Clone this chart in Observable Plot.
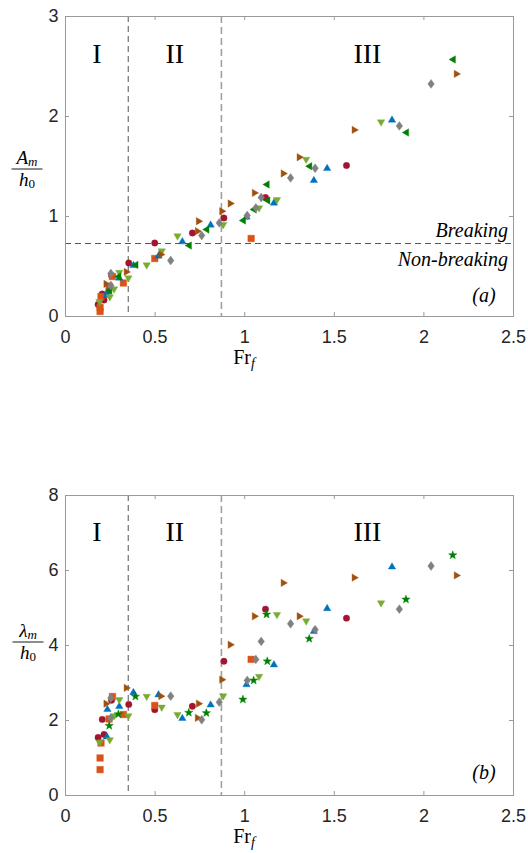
<!DOCTYPE html>
<html><head><meta charset="utf-8">
<script src="https://cdn.jsdelivr.net/npm/d3@7"></script>
<script src="https://cdn.jsdelivr.net/npm/@observablehq/plot@0.6"></script>
<style>
body{margin:0;background:#fff;}
#wrap{position:relative;width:528px;height:853px;overflow:hidden;}
.panel{position:absolute;left:0;}
svg{overflow:visible;}
</style></head><body>
<div id="wrap"><div id="p1" class="panel" style="top:0"></div><div id="p2" class="panel" style="top:480px"></div></div>
<script>
// ---- axis ticks ----
const xTicks = [0, 0.5, 1, 1.5, 2, 2.5];
const aTicks = [0, 1, 2, 3];
const lTicks = [0, 2, 4, 6, 8];

// ---- reference lines ----
const breakA = 0.73;
const regionB1 = 0.35;
const regionB2 = 0.87;
const regionNames = ["I", "II", "III"];
const regionX = [0.175, 0.61, 1.685];

// ---- series: dark red circles ----
const circX = [0.182, 0.205, 0.215, 0.257, 0.353, 0.498, 0.708, 0.884, 1.116, 1.568];
const circA = [0.12, 0.225, 0.165, 0.41, 0.535, 0.735, 0.835, 0.985, 1.19, 1.51];
const circL = [1.55, 2.03, 1.63, 2.54, 2.43, 2.29, 2.38, 3.58, 4.97, 4.73];

// ---- orange squares ----
const sqX = [0.193, 0.193, 0.198, 0.243, 0.262, 0.323, 0.498, 1.036];
const sqA = [0.05, 0.09, 0.20, 0.30, 0.40, 0.335, 0.58, 0.78];
const sqL = [0.69, 1.00, 1.40, 2.04, 2.64, 2.16, 2.40, 3.63];

// ---- blue up-triangles ----
const upX = [0.231, 0.234, 0.300, 0.379, 0.519, 0.652, 0.810, 1.010, 1.163, 1.386, 1.460, 1.822];
const upA = [0.22, 0.25, 0.39, 0.516, 0.61, 0.753, 0.92, 1.00, 1.14, 1.366, 1.486, 1.97];
const upL = [1.58, 2.31, 2.39, 2.76, 2.70, 2.07, 2.43, 2.97, 3.50, 4.39, 5.00, 6.11];

// ---- light green down-triangles ----
const dnX = [0.190, 0.247, 0.271, 0.300, 0.351, 0.453, 0.537, 0.625, 0.880, 1.080, 1.180, 1.343, 1.761];
const dnA = [0.143, 0.19, 0.27, 0.436, 0.38, 0.51, 0.65, 0.80, 0.913, 1.08, 1.163, 1.566, 1.94];
const dnL = [1.40, 1.47, 2.11, 2.54, 2.11, 2.63, 2.34, 2.14, 2.64, 3.16, 4.81, 4.64, 5.12];

// ---- brown right-triangles ----
const rtX = [0.229, 0.342, 0.535, 0.739, 0.745, 0.875, 0.922, 1.057, 1.218, 1.307, 1.614, 2.184];
const rtA = [0.326, 0.446, 0.62, 0.853, 0.953, 1.053, 1.13, 1.236, 1.43, 1.593, 1.866, 2.426];
const rtL = [2.45, 2.87, 2.65, 2.07, 2.45, 3.09, 4.02, 4.78, 5.67, 4.78, 5.81, 5.87];

// ---- green left-triangles (a) / stars (b) ----
const gX = [0.244, 0.295, 0.390, 0.688, 0.786, 0.990, 1.050, 1.122, 1.126, 1.360, 1.900, 2.161];
const gA = [0.26, 0.40, 0.516, 0.71, 0.87, 0.96, 1.07, 1.32, 1.16, 1.503, 1.84, 2.57];
const gL = [1.86, 2.17, 2.64, 2.21, 2.20, 2.56, 3.07, 4.83, 3.58, 4.18, 5.23, 6.41];

// ---- gray diamonds ----
const dmX = [0.253, 0.253, 0.587, 0.760, 0.858, 1.014, 1.062, 1.092, 1.256, 1.393, 1.863, 2.040];
const dmA = [0.43, 0.31, 0.56, 0.81, 0.936, 1.01, 1.086, 1.19, 1.386, 1.483, 1.906, 2.326];
const dmL = [2.60, 2.07, 2.65, 2.02, 2.49, 3.07, 3.63, 4.11, 4.58, 4.42, 4.97, 6.12];

// ---- custom marker shapes ----
function sym(fn) { return {draw(c, size) { fn(c, Math.sqrt(size / Math.PI)); }}; }
const symCircle = sym((c, r) => { c.moveTo(r, 0); c.arc(0, 0, r, 0, 2 * Math.PI); });
const symSquare = sym((c, r) => { c.rect(-r, -r, 2 * r, 2 * r); });
const symDiamond = sym((c, r) => { c.moveTo(0, -1.35 * r); c.lineTo(r, 0); c.lineTo(0, 1.35 * r); c.lineTo(-r, 0); c.closePath(); });
const symUp = sym((c, r) => { c.moveTo(0, -r); c.lineTo(r, 0.72 * r); c.lineTo(-r, 0.72 * r); c.closePath(); });
const symDown = sym((c, r) => { c.moveTo(0, r); c.lineTo(r, -0.72 * r); c.lineTo(-r, -0.72 * r); c.closePath(); });
const symRight = sym((c, r) => { c.moveTo(r, 0); c.lineTo(-0.72 * r, -r); c.lineTo(-0.72 * r, r); c.closePath(); });
const symLeft = sym((c, r) => { c.moveTo(-r, 0); c.lineTo(0.72 * r, -r); c.lineTo(0.72 * r, r); c.closePath(); });
const symStar = sym((c, r) => {
  for (let i = 0; i < 10; i++) {
    const rr = i % 2 ? r * 0.42 : r;
    const a = -Math.PI / 2 + i * Math.PI / 5;
    const px = rr * Math.cos(a), py = rr * Math.sin(a);
    i ? c.lineTo(px, py) : c.moveTo(px, py);
  }
  c.closePath();
});

const C = {red: "#A2142F", orange: "#D95319", blue: "#0072BD", lgreen: "#77AC30", brown: "#A0500E", green: "#008000", gray: "#808080"};
const frameGray = "#9a9a9a";
const serif = "'Liberation Serif', 'Times New Roman', serif";

function series(X, Y, symbol, color, r) {
  return Plot.dot(Y, {x: X, y: Y, symbol: symbol, r: r, fill: color, stroke: color, strokeWidth: 0.4});
}

function makePanel(yDomain, yTicks, mt, h, mb, dots, regionY, texts) {
  const innerH = h - mt - mb;
  return Plot.plot({
    width: 528, height: h,
    marginTop: mt, marginBottom: mb, marginLeft: 65, marginRight: 15,
    x: {domain: [0, 2.5]},
    y: {domain: yDomain},
    style: {fontFamily: "'Liberation Sans', Arial, sans-serif", fontSize: "18px", color: "#262626", background: "white", overflow: "visible"},
    marks: [
      Plot.ruleX([regionB1], {stroke: "#555", strokeWidth: 1, strokeDasharray: "6,4"}),
      Plot.ruleX([regionB2], {stroke: "#a0a0a0", strokeWidth: 1.6, strokeDasharray: "7,4"}),
      ...(texts.extra || []),
      Plot.frame({stroke: frameGray}),
      Plot.ruleX(xTicks, {x: d => d, stroke: frameGray, insetTop: innerH - 4}),
      Plot.ruleX(xTicks, {x: d => d, stroke: frameGray, insetBottom: innerH - 4}),
      Plot.ruleY(yTicks, {y: d => d, stroke: frameGray, insetRight: 448 - 4}),
      Plot.ruleY(yTicks, {y: d => d, stroke: frameGray, insetLeft: 448 - 4}),
      Plot.axisX({ticks: xTicks, tickSize: 0, tickPadding: 14, tickFormat: d => String(d), label: null, fill: "#262626"}),
      Plot.axisY({ticks: yTicks, tickSize: 0, tickPadding: 7, tickFormat: d => String(d), label: null, fill: "#262626"}),
      ...dots,
      Plot.text(regionNames, {x: regionX, y: regionNames.map(() => regionY), text: d => d, fontFamily: serif, fontSize: 28, fill: "#000"}),
      ...(texts.labels || [])
    ]
  });
}

function addFrac(svg, cx, ly, num, numSub) {
  const g = d3.select(svg).append("g").attr("font-family", serif).attr("fill", "#000");
  const t1 = g.append("text").attr("x", cx).attr("y", ly - 5).attr("text-anchor", "middle").attr("font-size", 19);
  t1.append("tspan").attr("font-style", "italic").text(num);
  t1.append("tspan").attr("font-style", "italic").attr("font-size", 13).attr("dy", 2).text(numSub);
  g.append("line").attr("x1", cx - 15.5).attr("x2", cx + 15.5).attr("y1", ly).attr("y2", ly).attr("stroke", "#000").attr("stroke-width", 0.9);
  const t2 = g.append("text").attr("x", cx).attr("y", ly + 17).attr("text-anchor", "middle").attr("font-size", 19);
  t2.append("tspan").attr("font-style", "italic").text("h");
  t2.append("tspan").attr("font-size", 13).attr("dy", 2).text("0");
}
function addXLabel(svg, cx, by) {
  const t = d3.select(svg).append("text").attr("x", cx).attr("y", by).attr("text-anchor", "middle")
    .attr("font-family", serif).attr("font-size", 20).attr("fill", "#000");
  t.append("tspan").text("Fr");
  t.append("tspan").attr("font-style", "italic").attr("font-size", 14).attr("dy", 4).text("f");
}

// ---- panel (a) ----
const dotsA = [
  series(circX, circA, symCircle, C.red, 3.2),
  series(sqX, sqA, symSquare, C.orange, 3.3),
  series(upX, upA, symUp, C.blue, 3.7),
  series(dnX, dnA, symDown, C.lgreen, 3.7),
  series(rtX, rtA, symRight, C.brown, 3.7),
  series(gX, gA, symLeft, C.green, 3.7),
  series(dmX, dmA, symDiamond, C.gray, 3.3)
];
const labelsA = [
  Plot.text(["Breaking"], {x: [2.47], y: [0.80], text: d => d, textAnchor: "end", lineAnchor: "bottom", fontFamily: serif, fontStyle: "italic", fontSize: 20, fill: "#000"}),
  Plot.text(["Non-breaking"], {x: [2.47], y: [0.503], text: d => d, textAnchor: "end", lineAnchor: "bottom", fontFamily: serif, fontStyle: "italic", fontSize: 20, fill: "#000"}),
  Plot.text(["(a)"], {x: [2.40], y: [0.146], text: d => d, textAnchor: "end", lineAnchor: "bottom", fontFamily: serif, fontStyle: "italic", fontSize: 20, fill: "#000"})
];
const svgA = makePanel([0, 3], aTicks, 16, 372, 56, dotsA, 2.62, {
  extra: [Plot.ruleY([breakA], {stroke: "#555", strokeWidth: 1, strokeDasharray: "6,4"})],
  labels: labelsA
});
document.getElementById("p1").appendChild(svgA);
addFrac(svgA, 27, 169, "A", "m");
addXLabel(svgA, 244, 364);

// ---- panel (b) ----
const dotsB = [
  series(circX, circL, symCircle, C.red, 3.2),
  series(sqX, sqL, symSquare, C.orange, 3.3),
  series(upX, upL, symUp, C.blue, 3.7),
  series(dnX, dnL, symDown, C.lgreen, 3.7),
  series(rtX, rtL, symRight, C.brown, 3.7),
  series(gX, gL, symStar, C.green, 4.4),
  series(dmX, dmL, symDiamond, C.gray, 3.3)
];
const labelsB = [
  Plot.text(["(b)"], {x: [2.40], y: [0.43], text: d => d, textAnchor: "end", lineAnchor: "bottom", fontFamily: serif, fontStyle: "italic", fontSize: 20, fill: "#000"})
];
const svgB = makePanel([0, 8], lTicks, 15, 373, 58, dotsB, 7.02, {labels: labelsB});
document.getElementById("p2").appendChild(svgB);
addFrac(svgB, 28, 162, "λ", "m");
addXLabel(svgB, 244, 363);
</script>
</body></html>
